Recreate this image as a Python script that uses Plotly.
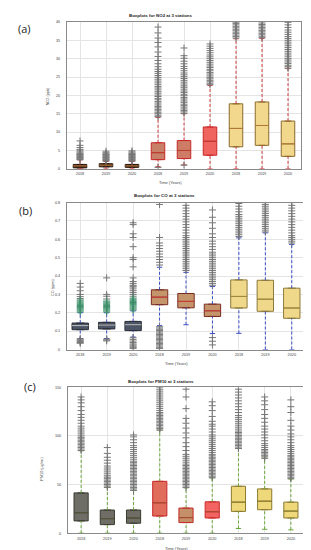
import plotly.graph_objects as go

W, H = 311, 550
years = ["2018", "2019", "2020", "2018", "2019", "2020", "2018", "2019", "2020"]
pos = list(range(9))

# ---------------- Panel (a) NO2 ----------------
no2_q1 = [0.25, 0.55, 0.4, 2.5, 2.8, 3.7, 6.0, 6.4, 3.4]
no2_med = [0.8, 1.0, 0.8, 4.4, 5.0, 7.5, 11.0, 11.8, 6.8]
no2_q3 = [1.2, 1.4, 1.2, 7.1, 7.7, 11.4, 17.7, 18.2, 13.0]
no2_lo = [0.0, 0.0, 0.0, 0.6, 1.1, 0.0, 0.0, 0.0, 0.0]
no2_hi = [2.4, 2.0, 2.0, 14.0, 15.0, 22.7, 35.4, 35.5, 27.3]
no2_out = [
    [2.5, 2.7, 2.9, 3.1, 3.3, 3.5, 3.7, 3.9, 4.1, 4.3, 4.6, 4.9, 5.3, 5.8, 6.4, 7.6],
    [2.1, 2.3, 2.5, 2.7, 2.9, 3.1, 3.3, 3.5, 3.7, 3.9, 4.1, 4.4, 4.8],
    [2.1, 2.3, 2.5, 2.7, 2.9, 3.1, 3.3, 3.5, 3.7, 3.9, 4.1, 4.3, 4.6, 4.9],
    [0.4, 14.2, 14.6, 15.0, 15.4, 15.8, 16.2, 16.6, 17.0, 17.4, 17.9, 18.3, 18.8, 19.2, 19.7,
     20.1, 20.6, 21.0, 21.5, 22.0, 22.4, 22.9, 23.4, 23.9, 24.4, 24.9, 25.4, 26.0, 26.5,
     27.1, 27.8, 28.6, 29.5, 30.6, 31.8, 33.2, 34.4, 35.6, 37.0, 38.6],
    [1.0, 15.1, 15.5, 15.9, 16.3, 16.8, 17.2, 17.6, 18.1, 18.5, 19.0, 19.4, 19.9, 20.3, 20.8,
     21.2, 21.7, 22.2, 22.6, 23.1, 23.6, 24.1, 24.6, 25.1, 25.6, 26.1, 26.7, 27.3, 27.9,
     28.6, 29.3, 30.1, 30.8, 32.9],
    [22.9, 23.3, 23.7, 24.1, 24.5, 24.9, 25.3, 25.8, 26.2, 26.7, 27.1, 27.6, 28.0, 28.5,
     29.0, 29.5, 30.0, 30.5, 31.0, 31.6, 32.2, 32.8, 33.4, 34.0],
    [35.6, 36.0, 36.4, 36.8, 37.2, 37.6, 38.0, 38.4, 38.8, 39.2, 39.6, 39.95],
    [35.7, 36.1, 36.5, 36.9, 37.3, 37.7, 38.1, 38.5, 38.9, 39.3, 39.7],
    [27.4, 27.8, 28.2, 28.7, 29.1, 29.6, 30.0, 30.5, 31.0, 31.5, 32.0, 32.5, 33.0, 33.5,
     34.0, 34.5, 35.0, 35.5, 36.0, 36.6, 37.2, 37.8, 38.5, 39.2, 39.9],
]

# ---------------- Panel (b) CO ----------------
co_q1 = [0.108, 0.112, 0.103, 0.244, 0.227, 0.180, 0.226, 0.208, 0.170]
co_med = [0.130, 0.133, 0.135, 0.285, 0.262, 0.211, 0.289, 0.274, 0.226]
co_q3 = [0.144, 0.148, 0.153, 0.325, 0.305, 0.247, 0.379, 0.377, 0.334]
co_lo = [0.060, 0.060, 0.068, 0.130, 0.135, 0.087, 0.088, 0.0, 0.0]
co_hi = [0.200, 0.200, 0.210, 0.448, 0.420, 0.343, 0.608, 0.635, 0.572]
co_out = [
    [0.278, 0.288, 0.30, 0.32, 0.34, 0.36, 0.058, 0.053, 0.048, 0.043, 0.038, 0.034],
    [0.275, 0.29, 0.30, 0.39, 0.057, 0.052, 0.047],
    [0.29, 0.30, 0.31, 0.32, 0.33, 0.34, 0.345, 0.35, 0.36, 0.37, 0.39, 0.45, 0.49, 0.50,
     0.56, 0.61, 0.63, 0.68, 0.69, 0.064, 0.055, 0.046, 0.038, 0.03, 0.024, 0.018, 0.012, 0.006],
    [0.46, 0.475, 0.49, 0.505, 0.52, 0.535, 0.55, 0.565, 0.58, 0.61, 0.79,
     0.124, 0.117, 0.11, 0.103, 0.096, 0.089, 0.082, 0.075, 0.068, 0.061, 0.054, 0.047,
     0.04, 0.033, 0.026, 0.019, 0.012, 0.005],
    [0.43, 0.44, 0.45, 0.46, 0.47, 0.48, 0.49, 0.50, 0.51, 0.52, 0.53, 0.54, 0.55, 0.56,
     0.57, 0.58, 0.59, 0.60, 0.61, 0.62, 0.635, 0.65, 0.665, 0.68, 0.695, 0.71, 0.725,
     0.74, 0.755, 0.77, 0.785],
    [0.35, 0.36, 0.37, 0.38, 0.39, 0.40, 0.41, 0.42, 0.43, 0.44, 0.45, 0.46, 0.47, 0.48,
     0.49, 0.50, 0.51, 0.52, 0.53, 0.545, 0.56, 0.575, 0.59, 0.61, 0.63, 0.66, 0.69, 0.72,
     0.76, 0.065, 0.045, 0.025],
    [0.615, 0.625, 0.635, 0.645, 0.655, 0.665, 0.675, 0.685, 0.695, 0.705, 0.715, 0.725,
     0.735, 0.75, 0.765, 0.78, 0.795],
    [0.64, 0.65, 0.66, 0.67, 0.68, 0.69, 0.70, 0.71, 0.72, 0.73, 0.74, 0.75, 0.76, 0.77,
     0.78, 0.79, 0.80],
    [0.58, 0.59, 0.60, 0.61, 0.62, 0.635, 0.65, 0.665, 0.68, 0.695, 0.71, 0.725, 0.74,
     0.755, 0.77, 0.785, 0.80],
]
co_green = [
    [0.204, 0.21, 0.216, 0.222, 0.228, 0.234, 0.24, 0.246, 0.252, 0.258, 0.264, 0.27],
    [0.204, 0.21, 0.216, 0.222, 0.228, 0.234, 0.24, 0.246, 0.252, 0.258, 0.264],
    [0.214, 0.22, 0.226, 0.232, 0.238, 0.244, 0.25, 0.256, 0.262, 0.268, 0.274, 0.28],
    [], [], [], [], [], [],
]

# ---------------- Panel (c) PM10 ----------------
pm_q1 = [12.6, 8.8, 10.2, 17.6, 10.9, 15.6, 22.4, 24.1, 15.6]
pm_med = [21.0, 14.9, 15.6, 31.2, 16.0, 22.0, 31.9, 32.9, 22.7]
pm_q3 = [41.4, 23.8, 23.8, 53.3, 25.8, 32.2, 48.2, 45.5, 31.9]
pm_lo = [0, 0, 0, 0, 0, 0, 4.8, 4.0, 3.4]
pm_hi = [84.7, 47.2, 44.1, 105.9, 46.5, 56.7, 87.2, 77.0, 55.6]
pm_out = [
    [85, 86.5, 88, 89.5, 91, 92.5, 94, 95.5, 97, 98.5, 100, 102, 104, 106, 108, 110, 113,
     116, 119, 122, 126, 130, 134, 137, 140],
    [47, 48.5, 50, 51.5, 53, 54.5, 56, 57.5, 59, 61, 63, 65, 67, 69, 72, 75, 78, 82, 88],
    [44, 45.5, 47, 48.5, 50, 51.5, 53, 54.5, 56, 57.5, 59, 60.5, 62, 63.5, 65, 66.5, 68,
     69.5, 71, 72.5, 74, 76, 78, 80, 82, 84, 86, 88, 90, 93, 96, 99, 101],
    [106, 107.5, 109, 110.5, 112, 113.5, 115, 116.5, 118, 119.5, 121, 122.5, 124, 126, 128,
     130, 132, 134, 136, 138, 140, 142, 144, 146, 148, 150],
    [47, 48.5, 50, 51.5, 53, 54.5, 56, 57.5, 59, 60.5, 62, 63.5, 65, 66.5, 68, 69.5, 71,
     73, 75, 77, 79, 81, 85, 89, 93, 98, 103, 108, 113, 118, 128, 140, 148],
    [57, 58.5, 60, 61.5, 63, 64.5, 66, 67.5, 69, 70.5, 72, 73.5, 75, 76.5, 78, 79.5, 81,
     83, 85, 87, 89, 91, 93, 95, 97, 99, 101, 104, 107, 110, 112, 115, 120, 126, 131, 135],
    [87, 88.5, 90, 91.5, 93, 94.5, 96, 97.5, 99, 100.5, 102, 103.5, 105, 107, 109, 111,
     113, 115, 117, 119, 121, 124, 127, 130, 133, 136, 139, 142, 145, 148],
    [77, 78.5, 80, 81.5, 83, 84.5, 86, 88, 90, 92, 95, 98, 101, 104, 107, 110, 114, 118,
     122, 127, 132, 136, 140],
    [56, 57.5, 59, 60.5, 62, 63.5, 65, 66.5, 68, 69.5, 71, 72.5, 74, 75.5, 77, 78.5, 80,
     82, 84, 86, 88, 90, 93, 96, 99, 102, 106, 110, 116, 124, 130, 137],
]

panels = [
    dict(q1=no2_q1, med=no2_med, q3=no2_q3, lo=no2_lo, hi=no2_hi, out=no2_out, green=None,
         fill=["#4a3426"] * 3 + ["#c98068", "#cf7c66", "#f06460"] + ["#f2d88c"] * 3,
         edge=["#2a1a10"] * 3 + ["#c82828"] * 3 + ["#8c6a2c"] * 3,
         medc=["#d0803a"] * 3 + ["#b84030"] * 3 + ["#b07a3a"] * 3,
         wcol="#d03c3c", width=0.52, yr=[0, 40], dtick=5,
         px=(59, 293), py=(12, 160), title="Boxplots for NO2 at 3 stations",
         tpos=(153, 6), xlpos=(162, 174), ylab="NO2 (ppb)", ylpos=(40, 87),
         tag="(a)", tagpos=(16, 19)),
    dict(q1=co_q1, med=co_med, q3=co_q3, lo=co_lo, hi=co_hi, out=co_out, green=co_green,
         fill=["#4c5566"] * 3 + ["#c4946a"] * 3 + ["#f0d88a"] * 3,
         edge=["#2a2e38"] * 3 + ["#7a2a20"] * 3 + ["#8c7a3a"] * 3,
         medc=["#c8c8c8"] * 3 + ["#d04040"] * 3 + ["#a08a40"] * 3,
         wcol="#3a4ec8", width=0.62, yr=[0, 0.8], dtick=0.1,
         px=(59, 297), py=(194, 342), title="Boxplots for CO at 3 stations",
         tpos=(156, 187), xlpos=(168, 356), ylab="CO (ppm)", ylpos=(45, 280),
         tag="(b)", tagpos=(17, 202)),
    dict(q1=pm_q1, med=pm_med, q3=pm_q3, lo=pm_lo, hi=pm_hi, out=pm_out, green=None,
         fill=["#6e6e66"] * 3 + ["#e06c5c", "#c4906a", "#f26462"] + ["#eed87a"] * 3,
         edge=["#3a3a30"] * 3 + ["#c82828"] * 3 + ["#8a7a30"] * 3,
         medc=["#5a5a3a"] * 3 + ["#a05030"] * 3 + ["#8a7a30"] * 3,
         wcol="#6aa83a", width=0.54, yr=[0, 150], dtick=50,
         px=(60, 296), py=(380, 527), title="Boxplots for PM10 at 3 stations",
         tpos=(153, 374), xlpos=(168, 542), ylab="PM10 (µg/m³)", ylpos=(34, 462),
         tag="(c)", tagpos=(22, 379)),
]

FONT = "Liberation Sans, Arial, sans-serif"
fig = go.Figure()
annotations = []
layout_axes = {}

for k, p in enumerate(panels):
    n = "" if k == 0 else str(k + 1)
    xa, ya = "x" + n, "y" + n
    # whiskers (dashed): from lower fence to Q1 and from Q3 to upper fence
    wx, wy = [], []
    for i in pos:
        wx += [pos[i], pos[i], None, pos[i], pos[i], None]
        wy += [p["lo"][i], p["q1"][i], None, p["q3"][i], p["hi"][i], None]
    fig.add_trace(go.Scatter(x=wx, y=wy, mode="lines", xaxis=xa, yaxis=ya,
                             line=dict(color=p["wcol"], width=1, dash="3px,2px"),
                             hoverinfo="skip", showlegend=False))
    # whisker caps
    cx, cy = [], []
    for i in pos:
        for v in (p["lo"][i], p["hi"][i]):
            cx += [pos[i] - 0.1, pos[i] + 0.1, None]
            cy += [v, v, None]
    fig.add_trace(go.Scatter(x=cx, y=cy, mode="lines", xaxis=xa, yaxis=ya,
                             line=dict(color=p["wcol"], width=1),
                             hoverinfo="skip", showlegend=False))
    # boxes
    for i in pos:
        fig.add_trace(go.Box(x=[pos[i]], q1=[p["q1"][i]], median=[p["med"][i]],
                             q3=[p["q3"][i]], lowerfence=[p["q1"][i]],
                             upperfence=[p["q3"][i]], width=p["width"],
                             fillcolor=p["fill"][i],
                             line=dict(color=p["edge"][i], width=1),
                             boxpoints=False, xaxis=xa, yaxis=ya,
                             hoverinfo="skip", showlegend=False))
    # medians
    for i in pos:
        hw = p["width"] / 2
        fig.add_trace(go.Scatter(x=[pos[i] - hw, pos[i] + hw],
                                 y=[p["med"][i], p["med"][i]], mode="lines",
                                 xaxis=xa, yaxis=ya,
                                 line=dict(color=p["medc"][i], width=1),
                                 hoverinfo="skip", showlegend=False))
    # outliers
    ox, oy = [], []
    for i in pos:
        ox += [pos[i]] * len(p["out"][i])
        oy += p["out"][i]
    fig.add_trace(go.Scatter(x=ox, y=oy, mode="markers", xaxis=xa, yaxis=ya,
                             marker=dict(symbol="cross-thin", size=5,
                                         line=dict(color="#767676", width=1)),
                             hoverinfo="skip", showlegend=False))
    if p["green"]:
        gx, gy = [], []
        for i in pos:
            gx += [pos[i]] * len(p["green"][i])
            gy += p["green"][i]
        fig.add_trace(go.Scatter(x=gx, y=gy, mode="markers", xaxis=xa, yaxis=ya,
                                 marker=dict(symbol="cross-thin", size=5,
                                             line=dict(color="#3d8f6a", width=1)),
                                 hoverinfo="skip", showlegend=False))

    x0, x1 = p["px"]
    y0, y1 = p["py"]
    layout_axes["xaxis" + n] = dict(
        domain=[x0 / W, x1 / W], anchor=ya, range=[-0.5, 8.5],
        tickmode="array", tickvals=pos, ticktext=years,
        showgrid=True, gridcolor="#e4e4e4", gridwidth=1, zeroline=False,
        showline=True, linecolor="#8a8a8a", linewidth=1, mirror=True,
        ticks="", tickfont=dict(size=3.8, color="#444", family=FONT),
        ticklabelstandoff=1)
    layout_axes["yaxis" + n] = dict(
        domain=[1 - y1 / H, 1 - y0 / H], anchor=xa, range=p["yr"],
        dtick=p["dtick"], tick0=0,
        showgrid=True, gridcolor="#e4e4e4", gridwidth=1, zeroline=False,
        showline=True, linecolor="#8a8a8a", linewidth=1, mirror=True,
        ticks="", tickfont=dict(size=3.8, color="#444", family=FONT),
        ticklabelstandoff=5)

    def A(text, xy, size, bold=False, angle=0, color="#333"):
        annotations.append(dict(
            text=("<b>%s</b>" % text) if bold else text,
            x=xy[0] / W, y=1 - xy[1] / H, xref="paper", yref="paper",
            showarrow=False, textangle=angle, xanchor="center", yanchor="middle",
            font=dict(size=size, color=color, family=FONT)))

    A(p["title"], p["tpos"], 4.4, bold=True, color="#222")
    A("Time (Years)", p["xlpos"], 4.0, color="#444")
    A(p["ylab"], p["ylpos"], 3.8, angle=-90, color="#444")
    annotations.append(dict(
        text=p["tag"], x=p["tagpos"][0] / W, y=1 - p["tagpos"][1] / H,
        xref="paper", yref="paper", showarrow=False, xanchor="center",
        yanchor="middle", font=dict(size=11, color="#222", family="Open Sans, sans-serif")))

fig.update_layout(width=W, height=H, margin=dict(l=0, r=0, t=0, b=0),
                  paper_bgcolor="white", plot_bgcolor="white",
                  annotations=annotations, boxgap=0, **layout_axes)

fig.write_html("out.html")
